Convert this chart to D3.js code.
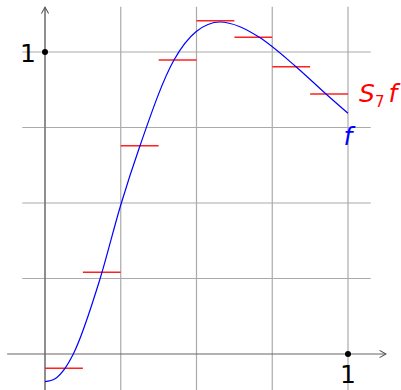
<!DOCTYPE html>
<html><head><meta charset="utf-8">
<script src="https://cdn.jsdelivr.net/npm/d3@7"></script>
<style>html,body{margin:0;padding:0;background:#fff}svg{display:block}</style>
</head><body><svg id="c" width="401" height="390"></svg>
<script>
// curve f
const fX = [0, 0.033, 0.066, 0.0934, 0.1815, 0.25, 0.3135, 0.4257, 0.4983, 0.5776, 0.6436, 0.7073, 0.8284, 0.9274, 1.0];
const fY = [-0.0917, -0.0818, -0.0474, 0, 0.2483, 0.4934, 0.6897, 0.9735, 1.0672, 1.0993, 1.0838, 1.0487, 0.9513, 0.8609, 0.797];
// step function S_7 f, 8 pieces on [k/8,(k+1)/8]
const stepEdges = [0, 0.125, 0.25, 0.375, 0.5, 0.625, 0.75, 0.875, 1];
const stepVals = [-0.047, 0.2705, 0.6897, 0.9735, 1.1037, 1.0487, 0.9513, 0.8609];
const gridX = [0, 0.25, 0.5, 0.75, 1];
const gridY = [0.25, 0.5, 0.75, 1];

const svg = d3.select("#c");
const x = d3.scaleLinear().domain([0, 1]).range([45, 348]);
const y = d3.scaleLinear().domain([0, 1]).range([354, 52]);

const defs = svg.append("defs");
defs.append("marker").attr("id", "arr").attr("viewBox", "0 0 10 10")
  .attr("refX", 9).attr("refY", 5).attr("markerWidth", 9).attr("markerHeight", 9)
  .attr("markerUnits", "userSpaceOnUse").attr("orient", "auto")
  .append("path").attr("d", "M2,1 L9,5 L2,9").attr("fill", "none")
  .attr("stroke", "#555").attr("stroke-width", 1.2);

const grid = svg.append("g").attr("stroke", "#aaa").attr("stroke-width", 1.2);
grid.selectAll(".gv").data(gridX).join("line")
  .attr("x1", d => x(d)).attr("x2", d => x(d))
  .attr("y1", y(-0.13)).attr("y2", y(1.15));
grid.selectAll(".gh").data(gridY).join("line")
  .attr("y1", d => y(d)).attr("y2", d => y(d))
  .attr("x1", x(-0.075)).attr("x2", x(1.075));

// axes
svg.append("line").attr("x1", x(-0.125)).attr("x2", x(1.125)).attr("y1", y(0)).attr("y2", y(0))
  .attr("stroke", "#666").attr("stroke-width", 1.2).attr("marker-end", "url(#arr)");
svg.append("line").attr("x1", x(0)).attr("x2", x(0)).attr("y1", y(-0.13)).attr("y2", y(1.148))
  .attr("stroke", "#666").attr("stroke-width", 1.2).attr("marker-end", "url(#arr)");

// step function
svg.append("g").selectAll("line").data(stepVals).join("line")
  .attr("x1", (d, i) => x(stepEdges[i])).attr("x2", (d, i) => x(stepEdges[i + 1]))
  .attr("y1", d => y(d)).attr("y2", d => y(d))
  .attr("stroke", "#ff2020").attr("stroke-width", 1.4);

// f
const pts = fX.map((v, i) => [v, fY[i]]);
svg.append("path").datum(pts)
  .attr("d", d3.line().x(d => x(d[0])).y(d => y(d[1])).curve(d3.curveMonotoneX))
  .attr("fill", "none").attr("stroke", "#0000ff").attr("stroke-width", 1.2);

// dots
svg.append("circle").attr("cx", x(0)).attr("cy", y(1)).attr("r", 3).attr("fill", "#000");
svg.append("circle").attr("cx", x(1)).attr("cy", y(0)).attr("r", 3).attr("fill", "#000");

const font = "DejaVu Sans";
svg.append("text").attr("x", 28).attr("y", 62).attr("text-anchor", "middle")
  .attr("font-family", font).attr("font-size", 25).attr("fill", "#000").text("1");
svg.append("text").attr("x", x(1)).attr("y", 383).attr("text-anchor", "middle")
  .attr("font-family", font).attr("font-size", 25).attr("fill", "#000").text("1");

const s = svg.append("text").attr("x", 359).attr("y", 102)
  .attr("font-family", font).attr("font-size", 25).attr("fill", "#ff0000");
s.append("tspan").attr("font-style", "italic").text("S");
s.append("tspan").attr("font-size", 15).attr("dy", 5).text("7");
s.append("tspan").attr("font-style", "italic").attr("dy", -5).attr("dx", 4).text("f");

svg.append("text").attr("x", 348).attr("y", 145).attr("text-anchor", "middle")
  .attr("font-family", font).attr("font-size", 25).attr("font-style", "italic")
  .attr("fill", "#0000ff").text("f");
</script></body></html>
